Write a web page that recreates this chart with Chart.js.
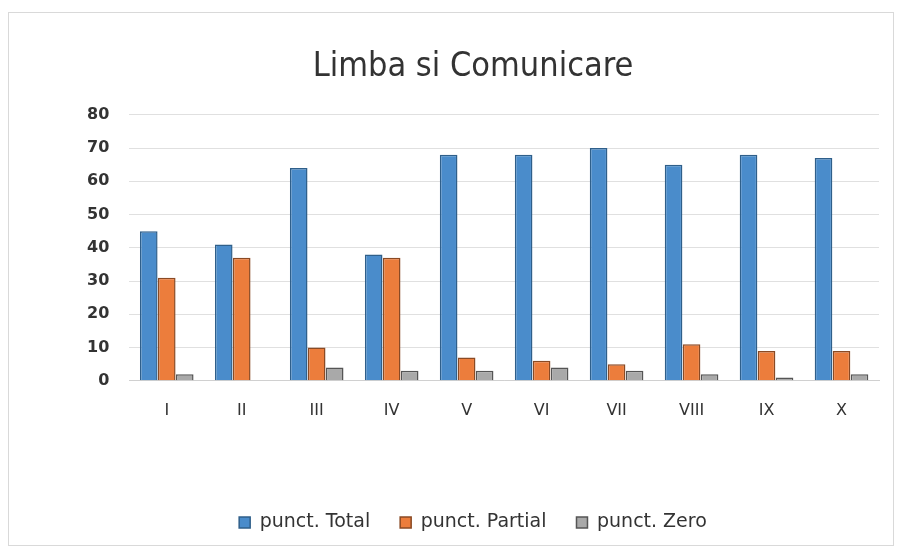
<!DOCTYPE html>
<html lang="ro">
<head>
  <meta charset="UTF-8">
  <title>Limba si Comunicare</title>
  <script src="https://cdn.jsdelivr.net/npm/chart.js"></script>
  <style>
    body { margin: 0; background: #fff; }
    .frame { position: absolute; left: 8px; top: 12px; width: 884px; height: 532px; border: 1px solid #d9d9d9; }
  </style>
</head>
<body>
<div class="frame"><canvas id="chart"></canvas></div>
<script>
  const categories = ["I", "II", "III", "IV", "V", "VI", "VII", "VIII", "IX", "X"];
  const total   = [45, 41, 64, 38, 68, 68, 70, 65, 68, 67];
  const partial = [31, 37, 10, 37, 7, 6, 5, 11, 9, 9];
  const zero    = [2, 0, 4, 3, 3, 4, 3, 2, 1, 2];
  const yTicks  = [0, 10, 20, 30, 40, 50, 60, 70, 80];

  const NARROW = "'Liberation Sans Narrow', 'DejaVu Sans Condensed', 'Liberation Sans', sans-serif";
  const WIDE = "'DejaVu Sans', sans-serif";

  function series(label, data, fill, border) {
    return { label, data, backgroundColor: fill, borderColor: border, borderWidth: 1.5, barPercentage: 0.98, categoryPercentage: 0.72 };
  }

  new Chart(document.getElementById("chart"), {
    type: "bar",
    data: {
      labels: categories,
      datasets: [
        series("punct. Total", total, "#4a8ccb", "#2f5f8a"),
        series("punct. Partial", partial, "#ec7d3c", "#8a4a24"),
        series("punct. Zero", zero, "#a9a9a9", "#555555")
      ]
    },
    options: {
      responsive: true,
      maintainAspectRatio: false,
      animation: false,
      layout: { padding: { left: 58, right: 14, top: 18, bottom: 3 } },
      plugins: {
        title: {
          display: true,
          text: "Limba si Comunicare",
          color: "#333",
          font: { family: NARROW, size: 34, weight: "normal" },
          padding: { top: 16, bottom: 27 }
        },
        legend: {
          position: "bottom",
          labels: {
            color: "#333",
            font: { family: WIDE, size: 19 },
            boxWidth: 11,
            boxHeight: 11,
            padding: 30
          }
        },
        tooltip: { enabled: false }
      },
      scales: {
        x: {
          grid: { display: false, drawTicks: false },
          border: { color: "#d0d0d0" },
          ticks: { color: "#333", font: { family: WIDE, size: 16 }, padding: 20 },
          afterFit(scale) { scale.height += 43; }
        },
        y: {
          min: 0,
          max: 80,
          afterBuildTicks(scale) { scale.ticks = yTicks.map(v => ({ value: v })); },
          grid: { color: "#e0e0e0", drawTicks: false },
          border: { display: false },
          ticks: { color: "#333", font: { family: WIDE, size: 16, weight: "bold" }, padding: 20 }
        }
      }
    }
  });
</script>
</body>
</html>
